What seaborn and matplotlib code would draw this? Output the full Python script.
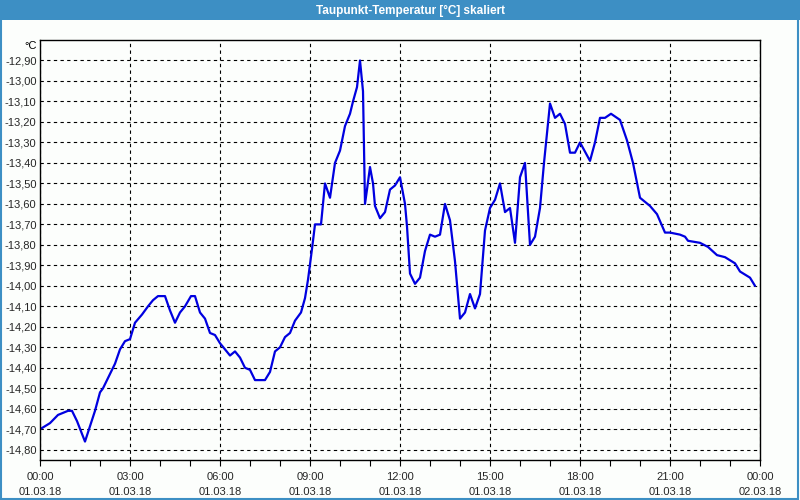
import matplotlib
matplotlib.use("Agg")
import matplotlib.pyplot as plt
import matplotlib.dates as mdates
from matplotlib.patches import Rectangle
from matplotlib.ticker import FuncFormatter, FixedLocator
import seaborn as sns
import pandas as pd

title = "Taupunkt-Temperatur [°C] skaliert"
unit = "°C"
y_ticks = [-14.80, -14.70, -14.60, -14.50, -14.40, -14.30, -14.20, -14.10, -14.00, -13.90,
           -13.80, -13.70, -13.60, -13.50, -13.40, -13.30, -13.20, -13.10, -13.00, -12.90]

times = ["00:00", "00:20", "00:36", "00:56", "01:04", "01:14", "01:30", "01:50", "02:00", "02:06",
         "02:20", "02:30", "02:40", "02:50", "03:00", "03:10", "03:24", "03:36", "03:46", "03:56",
         "04:10", "04:20", "04:30", "04:40", "04:50", "05:02", "05:10", "05:20", "05:30", "05:40",
         "05:50", "06:00", "06:10", "06:20", "06:30", "06:40", "06:50", "07:00", "07:10", "07:30",
         "07:40", "07:50", "08:00", "08:10", "08:20", "08:30", "08:42", "08:50", "08:56", "09:04",
         "09:10", "09:22", "09:30", "09:40", "09:50", "10:00", "10:10", "10:20", "10:26", "10:34",
         "10:40", "10:46", "10:48", "10:50", "10:54", "11:00", "11:06", "11:10", "11:20", "11:30",
         "11:40", "11:50", "12:00", "12:10", "12:14", "12:20", "12:30", "12:40", "12:50", "13:00",
         "13:10", "13:20", "13:30", "13:40", "13:50", "14:00", "14:10", "14:20", "14:30", "14:40",
         "14:50", "15:00", "15:10", "15:20", "15:30", "15:40", "15:50", "16:00", "16:10", "16:20",
         "16:30", "16:40", "16:48", "17:00", "17:10", "17:20", "17:30", "17:40", "17:50", "18:00",
         "18:20", "18:30", "18:40", "18:50", "19:02", "19:20", "19:34", "19:46", "20:00", "20:20",
         "20:34", "20:50", "21:00", "21:20", "21:30", "21:36", "22:00", "22:16", "22:34", "22:50",
         "23:10", "23:20", "23:40", "23:50"]

values = [-14.70, -14.67, -14.63, -14.61, -14.61, -14.66, -14.76, -14.61, -14.52, -14.50,
          -14.43, -14.38, -14.31, -14.27, -14.26, -14.18, -14.14, -14.10, -14.07, -14.05,
          -14.05, -14.12, -14.18, -14.13, -14.10, -14.05, -14.05, -14.13, -14.16, -14.23,
          -14.24, -14.28, -14.31, -14.34, -14.32, -14.35, -14.40, -14.41, -14.46, -14.46,
          -14.42, -14.32, -14.30, -14.25, -14.23, -14.17, -14.13, -14.06, -13.97, -13.82,
          -13.70, -13.70, -13.50, -13.57, -13.40, -13.34, -13.22, -13.16, -13.10, -13.03,
          -12.90, -13.05, -13.32, -13.60, -13.53, -13.42, -13.50, -13.61, -13.67, -13.64,
          -13.53, -13.51, -13.47, -13.60, -13.71, -13.94, -13.99, -13.96, -13.83, -13.75,
          -13.76, -13.75, -13.60, -13.68, -13.88, -14.16, -14.13, -14.04, -14.11, -14.04,
          -13.73, -13.62, -13.58, -13.50, -13.64, -13.62, -13.79, -13.47, -13.40, -13.80,
          -13.76, -13.62, -13.40, -13.11, -13.18, -13.16, -13.21, -13.35, -13.35, -13.30,
          -13.39, -13.30, -13.18, -13.18, -13.16, -13.19, -13.29, -13.40, -13.57, -13.61,
          -13.65, -13.74, -13.74, -13.75, -13.76, -13.78, -13.79, -13.81, -13.85, -13.86,
          -13.89, -13.93, -13.96, -14.00]

df = pd.DataFrame({
    "time": pd.to_datetime(["2018-03-01 " + t for t in times]),
    "value": values,
})

sns.set_theme(style="white")
plt.rcParams["font.family"] = ["Liberation Sans", "DejaVu Sans"]

bg = "#fcfefc"
fig = plt.figure(figsize=(8, 5), dpi=100, facecolor=bg)
ax = fig.add_axes([0.05, 0.08, 0.90, 0.84], facecolor=bg)

sns.lineplot(data=df, x="time", y="value", ax=ax, color="#0000e0", linewidth=1.6)

ax.set_xlim(pd.Timestamp("2018-03-01 00:00"), pd.Timestamp("2018-03-02 00:00"))
ax.set_ylim(-14.85, -12.80)

ax.xaxis.set_major_locator(mdates.HourLocator(byhour=range(0, 24, 3)))
ax.xaxis.set_minor_locator(mdates.HourLocator())
ax.xaxis.set_major_formatter(mdates.DateFormatter("%H:%M\n%d.%m.%y"))
ax.yaxis.set_major_locator(FixedLocator(y_ticks))
ax.yaxis.set_major_formatter(FuncFormatter(lambda v, p: f"{v:.2f}".replace(".", ",")))

ax.grid(True, which="major", color="black", linestyle=(0, (3, 3)), linewidth=0.8)
ax.tick_params(axis="x", which="both", direction="out", length=4, width=0.8,
               color="black", labelsize=8, pad=5, bottom=True)
ax.tick_params(axis="y", which="both", left=False, length=0, labelsize=8, pad=2.5)
for lab in ax.get_xticklabels():
    lab.set_linespacing(1.55)
for s in ax.spines.values():
    s.set_color("black")
    s.set_linewidth(1.0)
ax.set_xlabel("")
ax.set_ylabel("")

ax.text(-0.004, 0.985, unit, transform=ax.transAxes, ha="right", va="center",
        fontsize=8, color="black")

# title bar and frame
fig.patches.append(Rectangle((0, 0.96), 1, 0.04, transform=fig.transFigure,
                             facecolor="#3d8fc4", edgecolor="none", zorder=0))
fig.patches.append(Rectangle((0.001, 0.002), 0.997, 0.996, transform=fig.transFigure,
                             facecolor="none", edgecolor="#3d8fc4", linewidth=1.5, zorder=1))
fig.text(0.513, 0.979, title, ha="center", va="center", color="white",
         fontsize=8.5, fontweight="bold")

fig.savefig("out.png", dpi=100, facecolor=bg)
